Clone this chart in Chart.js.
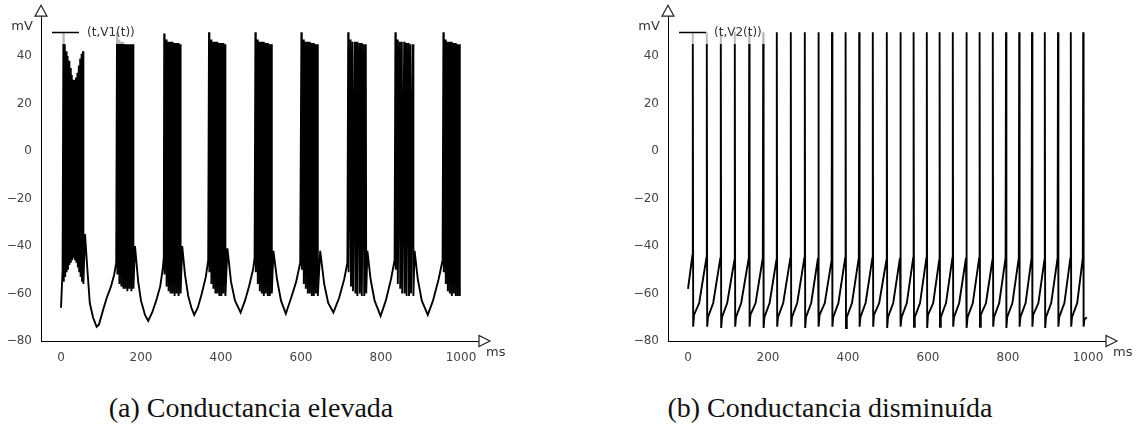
<!DOCTYPE html>
<html>
<head>
<meta charset="utf-8">
<script src="https://cdn.jsdelivr.net/npm/chart.js@4.4.1/dist/chart.umd.min.js"></script>
<style>
  body { margin: 0; background: #fff; }
  #page { position: relative; width: 1136px; height: 432px; overflow: hidden; }
  .box { position: absolute; top: 0; width: 509px; height: 380px; }
  .cap { position: absolute; top: 392px; width: 400px; text-align: center;
         font-family: "Liberation Serif", serif; font-size: 28px; line-height: 32px; color: #111; }
</style>
</head>
<body>
<div id="page">
  <div class="box" style="left:0px"><canvas id="c1" width="509" height="380"></canvas></div>
  <div class="box" style="left:627px"><canvas id="c2" width="509" height="380"></canvas></div>
  <div class="cap" style="left:51px">(a) Conductancia elevada</div>
  <div class="cap" style="left:630px">(b) Conductancia disminuída</div>
</div>
<script>
// tick labels
var xTicks = [0, 200, 400, 600, 800, 1000];
var yTicks = [-80, -60, -40, -20, 0, 20, 40];

// V1(t), high conductance: bursting
var t1 = [
  0, 4, 6, 7, 9.5, 10.5, 13, 14, 16.5, 17.5, 20, 21, 23.5, 24.5, 27, 28, 30.5, 31.5, 34, 35, 37.5, 38.5, 41, 42, 44.5, 45.5, 48, 49, 51.5, 52.5, 55, 56,
  60, 66, 72, 80, 89, 95, 105, 114, 125, 133, 138,
  140, 141, 145, 146, 150, 151, 155, 156, 160, 161, 165, 166, 170, 171, 175, 176, 180, 181,
  185, 193, 200, 210, 218, 228, 238, 248, 254, 257,
  258, 259, 263, 264, 268, 269, 273, 274, 278, 279, 283, 284, 288, 289, 293, 294, 298, 299,
  303, 310, 318, 326, 333, 342, 352, 362, 368,
  370, 371, 375, 376, 380, 381, 385, 386, 390, 391, 395, 396, 400, 401, 405, 406, 410, 411,
  416, 425, 435, 449, 460, 470, 480, 484,
  486, 487, 491, 492, 496, 497, 501, 502, 506, 507, 511, 512, 516, 517, 521, 522, 526, 527,
  531, 540, 550, 562, 575, 588, 598,
  601, 602, 606, 607, 611, 612, 616, 617, 621, 622, 626, 627, 631, 632, 636, 637, 641, 642,
  648, 658, 668, 681, 695, 708, 716,
  718, 719, 724, 725, 729, 730, 735, 736, 740, 741, 746, 747, 751, 752, 757, 758, 762, 763,
  766, 774, 784, 799, 812, 825, 834,
  836, 837, 841, 842, 847, 848, 852, 853, 858, 859, 863, 864, 869, 870, 874, 875, 880, 881,
  884, 892, 902, 917, 930, 944, 954,
  956, 957, 961, 962, 966, 967, 971, 972, 976, 977, 981, 982, 986, 987, 991, 992, 996, 997
];
var v1 = [
  -66, -50, 50, -55, 45, -53, 42, -51, 40, -50, 38, -48, 35, -47, 32, -46, 30, -45, 30, -46, 31, -47, 33, -49, 36, -51, 39, -53, 41, -55, 42, -56,
  -35, -50, -64, -70, -74, -73, -67, -62, -57, -52, -47,
  50, -52, 47, -56, 46, -57, 46, -58, 45, -58, 45, -59, 45, -58, 45, -59, 45, -58,
  -40, -55, -63, -69, -71.5, -68, -63, -57, -50, -45,
  49.5, -52, 47, -57, 46, -59, 46, -60, 46, -60, 45.5, -61, 45.5, -60, 45.5, -61, 45, -60,
  -40, -52, -61, -66, -69, -66, -60, -53, -46,
  50, -51, 47, -56, 46, -58, 46, -60, 46, -60, 45.5, -61, 45.5, -61, 45.5, -60, 45, -61,
  -41, -55, -63, -68, -63, -57, -50, -45,
  50, -51, 47, -56, 46, -59, 46, -60, 46, -61, 45.5, -60, 45.5, -61, 45, -61, 45, -60,
  -42, -54, -63, -68.5, -62, -55, -47,
  50, -50, 47, -56, 46, -58, 46, -60, 46, -60, 45.5, -61, 45.5, -61, 45, -60, 45, -61,
  -42, -56, -64, -68, -62, -54, -47,
  50, -51, 47, -57, 46, -59, 46, -60, 46, -61, 45.5, -60, 45.5, -61, 45, -61, 45, -60,
  -42, -54, -63, -69.5, -63, -54, -46,
  50, -50, 47, -56, 46, -58, 46, -60, 46, -60, 45.5, -61, 45.5, -61, 45, -60, 45, -61,
  -42, -54, -63, -69, -63, -54, -46,
  50, -51, 47, -56, 46, -59, 46, -60, 46, -61, 45.5, -60, 45.5, -61, 45, -61, 45, -61
];

// V2(t), low conductance: tonic spiking
var t2 = [
  0, 11,
  12, 13, 15, 28, 46,
  47, 48, 50, 63, 81,
  82, 83, 85, 98, 116,
  117, 118, 120, 133, 152,
  153, 154, 156, 169, 187,
  188, 189, 191, 204, 221,
  222, 223, 225, 238, 256,
  257, 258, 260, 273, 291,
  292, 293, 295, 308, 325,
  326, 327, 329, 342, 359,
  360, 361, 363, 376, 393,
  394, 395, 397, 410, 427,
  428, 429, 431, 444, 461,
  462, 463, 465, 478, 496,
  497, 498, 500, 513, 530,
  531, 532, 534, 547, 563,
  564, 565, 567, 580, 596,
  597, 598, 600, 613, 628,
  629, 630, 632, 645, 661,
  662, 663, 665, 678, 695,
  696, 697, 699, 712, 728,
  729, 730, 732, 745, 761,
  762, 763, 765, 778, 794,
  795, 796, 798, 811, 827,
  828, 829, 831, 844, 859,
  860, 861, 863, 876, 891,
  892, 893, 895, 908, 924,
  925, 926, 928, 941, 956,
  957, 958, 960, 973, 987,
  988, 989, 991, 997
];
var v2 = [
  -58, -44,
  50, -74, -69, -64, -45,
  50, -74, -70, -64, -45,
  50, -74.5, -70, -64, -46,
  50, -74, -70, -64, -45,
  50, -74, -69, -64, -45,
  50, -74.5, -70, -64, -46,
  50, -74, -70, -64, -45,
  50, -74, -70, -64, -45,
  50, -74.5, -70, -64, -45,
  50, -74, -69, -64, -46,
  50, -74, -70, -64, -45,
  50, -74.5, -70, -64, -45,
  50, -74, -70, -64, -45,
  50, -74, -69, -64, -46,
  50, -74.5, -70, -64, -45,
  50, -74, -70, -64, -45,
  50, -74, -70, -64, -45,
  50, -74.5, -69, -64, -46,
  50, -74, -70, -64, -45,
  50, -74, -70, -64, -45,
  50, -74.5, -70, -64, -45,
  50, -74, -69, -64, -46,
  50, -74, -70, -64, -45,
  50, -74.5, -70, -64, -45,
  50, -74, -70, -64, -45,
  50, -74, -69, -64, -46,
  50, -74.5, -70, -64, -45,
  50, -74, -70, -64, -45,
  50, -74, -70, -64, -45,
  50, -74, -71, -70
];

function minus(v) {
  return v < 0 ? '\u2212' + Math.abs(v) : String(v);
}

// arrows, axis names and the legend
var decor = {
  id: 'decor',
  afterDatasetsDraw: function (chart, args, opts) {
    var ctx = chart.ctx, a = chart.chartArea;
    ctx.save();
    ctx.fillStyle = 'rgba(255,255,255,0.72)';
    ctx.fillRect(a.left + 3, 20, 98, 24);
    ctx.strokeStyle = '#000';
    ctx.lineWidth = 1.5;
    ctx.beginPath();
    ctx.moveTo(a.left + 11, 32.5);
    ctx.lineTo(a.left + 38, 32.5);
    ctx.stroke();
    ctx.fillStyle = '#333';
    ctx.font = '12px "DejaVu Sans"';
    ctx.textBaseline = 'middle';
    ctx.fillText(opts.label, a.left + 46, 33);
    ctx.restore();
  },
  afterDraw: function (chart) {
    var ctx = chart.ctx, a = chart.chartArea;
    ctx.save();
    ctx.fillStyle = '#fff';
    ctx.strokeStyle = '#222';
    ctx.lineWidth = 1.2;
    // y arrow
    ctx.beginPath();
    ctx.moveTo(a.left, a.top - 11);
    ctx.lineTo(a.left - 6, a.top);
    ctx.lineTo(a.left + 6, a.top);
    ctx.closePath();
    ctx.fill();
    ctx.stroke();
    // x arrow
    ctx.beginPath();
    ctx.moveTo(a.right + 11, a.bottom);
    ctx.lineTo(a.right, a.bottom - 5.5);
    ctx.lineTo(a.right, a.bottom + 5.5);
    ctx.closePath();
    ctx.fill();
    ctx.stroke();
    ctx.fillStyle = '#333';
    ctx.font = '13px "DejaVu Sans"';
    ctx.textBaseline = 'middle';
    ctx.textAlign = 'center';
    ctx.fillText('mV', a.left - 19, 27);
    ctx.textAlign = 'left';
    ctx.fillText('ms', a.right + 7, a.bottom + 12);
    ctx.restore();
  }
};

function makeChart(id, t, v, label) {
  var pts = t.map(function (x, i) { return { x: x, y: v[i] }; });
  return new Chart(document.getElementById(id), {
    type: 'line',
    data: {
      datasets: [{
        label: label,
        data: pts,
        borderColor: '#000',
        borderWidth: 1.9,
        pointRadius: 0,
        fill: false,
        tension: 0
      }]
    },
    options: {
      responsive: false,
      animation: false,
      layout: { padding: { left: 0, top: 15, right: 30, bottom: 0 } },
      plugins: {
        legend: { display: false },
        tooltip: { enabled: false },
        decor: { label: label }
      },
      scales: {
        x: {
          type: 'linear',
          min: -50,
          max: 1045,
          afterBuildTicks: function (s) { s.ticks = xTicks.map(function (x) { return { value: x }; }); },
          afterFit: function (s) { s.height = 39; },
          grid: { display: false, drawTicks: false },
          border: { display: true, color: '#000', width: 1 },
          ticks: {
            color: '#444', padding: 10, maxRotation: 0, autoSkip: false,
            font: { family: 'DejaVu Sans', size: 12 },
            callback: function (val) { return minus(val); }
          }
        },
        y: {
          type: 'linear',
          min: -80,
          max: 56.8,
          afterBuildTicks: function (s) { s.ticks = yTicks.map(function (y) { return { value: y }; }); },
          afterFit: function (s) { s.width = 41; },
          grid: { display: false, drawTicks: false },
          border: { display: true, color: '#000', width: 1 },
          ticks: {
            color: '#444', padding: 9, autoSkip: false,
            font: { family: 'DejaVu Sans', size: 12 },
            callback: function (val) { return minus(val); }
          }
        }
      }
    },
    plugins: [decor]
  });
}

makeChart('c1', t1, v1, '(t,V1(t))');
makeChart('c2', t2, v2, '(t,V2(t))');
</script>
</body>
</html>
